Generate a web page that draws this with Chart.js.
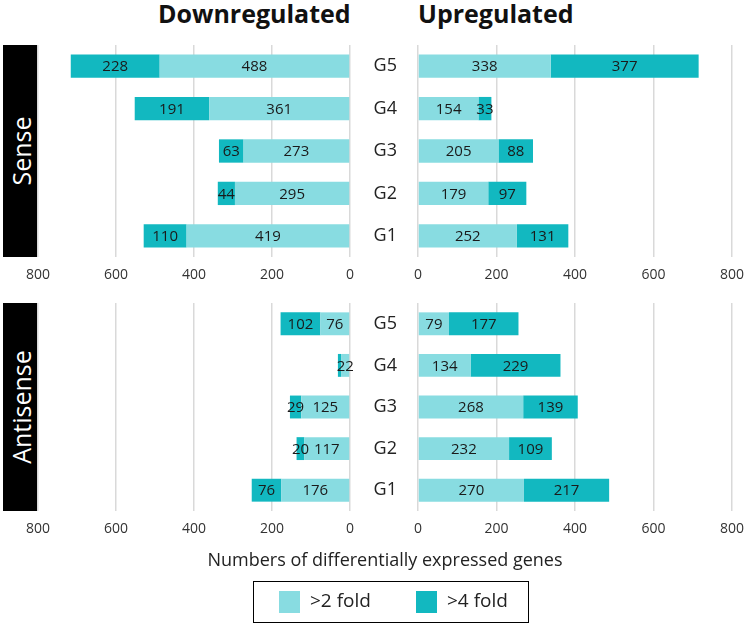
<!DOCTYPE html>
<html>
<head>
<meta charset="utf-8">
<script src="https://cdn.jsdelivr.net/npm/chart.js@4/dist/chart.umd.min.js"></script>
<style>
  body { margin: 0; background: #fff; font-family: "Open Sans", sans-serif; }
  #wrap { position: relative; width: 750px; height: 628px; overflow: hidden; }
  canvas { position: absolute; left: 0; }
  .title { position: absolute; top: -4px; font-weight: bold; font-size: 25px; color: #111; }
  .side { position: absolute; left: 3px; width: 35px; background: #000; }
  .side span { position: absolute; left: 50%; top: 50%; transform: translate(-50%, -50%) rotate(-90deg);
    color: #fff; font-size: 25px; white-space: nowrap; }
  #xtitle { position: absolute; top: 547px; left: 0; width: 770px; text-align: center; font-size: 18px; color: #222; }
  #legend { position: absolute; left: 253px; top: 581px; width: 274px; height: 40px; border: 1.5px solid #000; }
  .sw { position: absolute; top: 9px; width: 21px; height: 22px; }
  .lt { position: absolute; top: 5px; font-size: 19px; color: #222; }
</style>
</head>
<body>
<div id="wrap">
  <div class="title" style="left:158px">Downregulated</div>
  <div class="title" style="left:418px">Upregulated</div>
  <div class="side" style="top:45px;height:212px"><span>Sense</span></div>
  <div class="side" style="top:303px;height:208px"><span>Antisense</span></div>
  <canvas id="senseDown" width="750" height="300" style="top:0"></canvas>
  <canvas id="senseUp" width="750" height="300" style="top:0"></canvas>
  <canvas id="antiDown" width="750" height="338" style="top:290px"></canvas>
  <canvas id="antiUp" width="750" height="338" style="top:290px"></canvas>
  <div id="xtitle">Numbers of differentially expressed genes</div>
  <div id="legend">
    <div class="sw" style="left:25px;background:#88dce1"></div>
    <div class="lt" style="left:56px">&gt;2 fold</div>
    <div class="sw" style="left:162px;background:#12b8c0"></div>
    <div class="lt" style="left:193px">&gt;4 fold</div>
  </div>
</div>
<script>
const groups = ["G5", "G4", "G3", "G2", "G1"];
const xTicks = [0, 200, 400, 600, 800];

const senseDown2 = [488, 361, 273, 295, 419];
const senseDown4 = [228, 191, 63, 44, 110];
const senseUp2 = [338, 154, 205, 179, 252];
const senseUp4 = [377, 33, 88, 97, 131];

const antiDown2 = [76, 22, 125, 117, 176];
const antiDown4 = [102, 9, 29, 20, 76];
const antiUp2 = [79, 134, 268, 232, 270];
const antiUp4 = [177, 229, 139, 109, 217];

const lightColor = "#88dce1";
const darkColor = "#12b8c0";

// writes the value in the middle of each bar segment
const barLabels = {
  id: "barLabels",
  afterDatasetsDraw(chart) {
    const ctx = chart.ctx;
    ctx.save();
    ctx.font = "15px 'Open Sans'";
    ctx.fillStyle = "#1a1a1a";
    ctx.textAlign = "center";
    ctx.textBaseline = "middle";
    chart.data.datasets.forEach((ds, i) => {
      chart.getDatasetMeta(i).data.forEach((bar, j) => {
        if (ds.data[j] < 15) return;
        const p = bar.getProps(["x", "y", "base"], true);
        ctx.fillText(ds.data[j], (p.x + p.base) / 2, p.y + 1);
      });
    });
    ctx.restore();
  },
};

// top/bottom = wanted chart area edges inside the canvas, canvasH = canvas height
function makeChart(id, d2, d4, left, top, bottom, canvasH) {
  const xH = 40;
  const pad = {
    left: left ? 38 : 350,
    right: left ? 400 : 18,
    top: top,
    bottom: canvasH - bottom - xH,
  };
  return new Chart(document.getElementById(id), {
    type: "bar",
    data: {
      labels: groups,
      datasets: [
        { label: ">2 fold", data: d2, backgroundColor: lightColor },
        { label: ">4 fold", data: d4, backgroundColor: darkColor },
      ],
    },
    options: {
      indexAxis: "y",
      responsive: false,
      animation: false,
      layout: { padding: pad },
      categoryPercentage: 1,
      barPercentage: 0.55,
      plugins: { legend: { display: false }, tooltip: { enabled: false } },
      scales: {
        x: {
          type: "linear",
          min: 0,
          max: 800,
          reverse: left,
          stacked: true,
          afterBuildTicks: (s) => { s.ticks = xTicks.map((v) => ({ value: v })); },
          afterFit: (s) => {
            s.height = xH;
            s.paddingLeft = s.paddingRight = 0;
          },
          ticks: { font: { family: "Open Sans", size: 14 }, color: "#333", padding: 10 },
          grid: { color: "#d9d9d9", lineWidth: 1.5, drawTicks: false },
          border: { display: false },
        },
        y: {
          type: "category",
          stacked: true,
          display: !left,
          afterFit: (s) => {
            if (!left) s.width = 68;
            s.paddingTop = s.paddingBottom = 0;
          },
          ticks: { font: { family: "Open Sans", size: 18 }, color: "#222", padding: 21 },
          grid: { display: false, drawTicks: false },
          border: { display: false },
        },
      },
    },
    plugins: [barLabels],
  });
}

// top: chart area 45..257, bottom: 303..511 (canvas starts at 290)
makeChart("senseDown", senseDown2, senseDown4, true, 45, 257, 300);
makeChart("senseUp", senseUp2, senseUp4, false, 45, 257, 300);
makeChart("antiDown", antiDown2, antiDown4, true, 13, 221, 338);
makeChart("antiUp", antiUp2, antiUp4, false, 13, 221, 338);
</script>
</body>
</html>
